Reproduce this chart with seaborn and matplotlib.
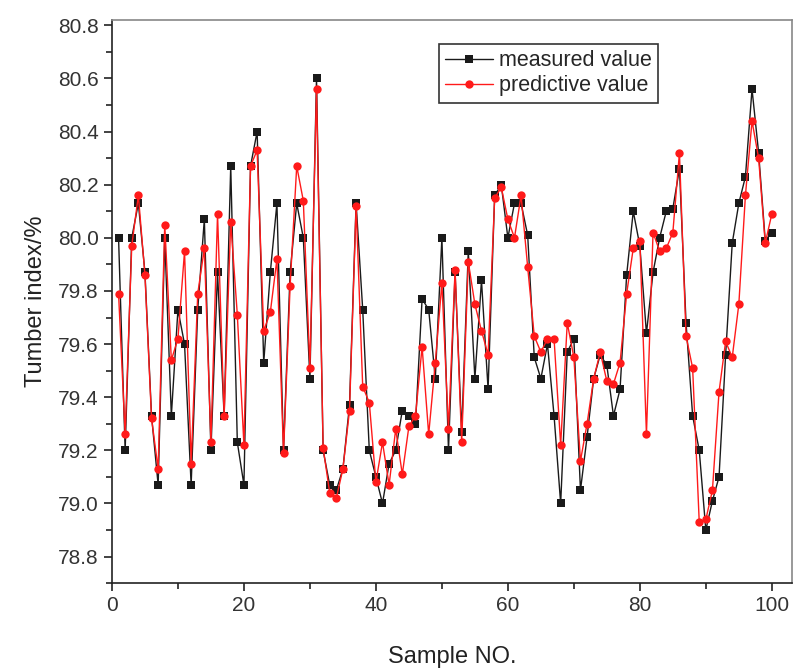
import numpy as np
import pandas as pd
import matplotlib
matplotlib.use("Agg")
import matplotlib.pyplot as plt
from matplotlib.ticker import MultipleLocator
import seaborn as sns

sample_no = list(range(1, 101))
measured = [80.00, 79.20, 80.00, 80.13, 79.87, 79.33, 79.07, 80.00, 79.33, 79.73,
            79.60, 79.07, 79.73, 80.07, 79.20, 79.87, 79.33, 80.27, 79.23, 79.07,
            80.27, 80.40, 79.53, 79.87, 80.13, 79.20, 79.87, 80.13, 80.00, 79.47,
            80.60, 79.20, 79.07, 79.05, 79.13, 79.37, 80.13, 79.73, 79.20, 79.10,
            79.00, 79.15, 79.20, 79.35, 79.33, 79.30, 79.77, 79.73, 79.47, 80.00,
            79.20, 79.87, 79.27, 79.95, 79.47, 79.84, 79.43, 80.16, 80.20, 80.00,
            80.13, 80.13, 80.01, 79.55, 79.47, 79.60, 79.33, 79.00, 79.57, 79.62,
            79.05, 79.25, 79.47, 79.56, 79.52, 79.33, 79.43, 79.86, 80.10, 79.97,
            79.64, 79.87, 80.00, 80.10, 80.11, 80.26, 79.68, 79.33, 79.20, 78.90,
            79.01, 79.10, 79.56, 79.98, 80.13, 80.23, 80.56, 80.32, 79.99, 80.02]
predictive = [79.79, 79.26, 79.97, 80.16, 79.86, 79.32, 79.13, 80.05, 79.54, 79.62,
              79.95, 79.15, 79.79, 79.96, 79.23, 80.09, 79.33, 80.06, 79.71, 79.22,
              80.27, 80.33, 79.65, 79.72, 79.92, 79.19, 79.82, 80.27, 80.14, 79.51,
              80.56, 79.21, 79.04, 79.02, 79.13, 79.35, 80.12, 79.44, 79.38, 79.08,
              79.23, 79.07, 79.28, 79.11, 79.29, 79.33, 79.59, 79.26, 79.53, 79.83,
              79.28, 79.88, 79.23, 79.91, 79.75, 79.65, 79.56, 80.15, 80.19, 80.07,
              80.00, 80.16, 79.89, 79.63, 79.57, 79.62, 79.62, 79.22, 79.68, 79.55,
              79.16, 79.30, 79.47, 79.57, 79.46, 79.45, 79.53, 79.79, 79.96, 79.99,
              79.26, 80.02, 79.95, 79.96, 80.02, 80.32, 79.63, 79.51, 78.93, 78.94,
              79.05, 79.42, 79.61, 79.55, 79.75, 80.16, 80.44, 80.30, 79.98, 80.09]
series_names = ["measured value", "predictive value"]

sns.set_theme(style="ticks")
plt.rcParams['font.family'] = ['Liberation Sans', 'DejaVu Sans']

fig = plt.figure(figsize=(7.94, 6.68), dpi=100)
ax = fig.add_axes([0.141, 0.127, 0.856, 0.843])

sns.lineplot(x=sample_no, y=measured, ax=ax, color="#1a1a1a", marker="s",
             markersize=5.5, markeredgewidth=0, linewidth=1.0, label=series_names[0])
sns.lineplot(x=sample_no, y=predictive, ax=ax, color="#ff1a1a", marker="o",
             markersize=6, markeredgewidth=0, linewidth=1.0, label=series_names[1])

ax.set_xlim(0, 103)
ax.set_ylim(78.7, 80.82)
ax.xaxis.set_major_locator(MultipleLocator(20))
ax.xaxis.set_minor_locator(MultipleLocator(10))
ax.yaxis.set_major_locator(MultipleLocator(0.2))
ax.yaxis.set_minor_locator(MultipleLocator(0.1))
ax.set_yticks(np.arange(78.8, 80.81, 0.2))
ax.set_yticklabels([f"{v:.1f}" for v in np.arange(78.8, 80.81, 0.2)])

ax.tick_params(axis='both', which='major', direction='out', length=6, width=1.2,
               labelsize=15, colors='#222222', labelcolor='#333333')
ax.tick_params(axis='both', which='minor', direction='out', length=4, width=1.2,
               colors='#222222')
for s in ax.spines.values():
    s.set_linewidth(1.2)
    s.set_color('#222222')
ax.spines['top'].set_color('#888888')
ax.spines['right'].set_color('#888888')

ax.set_xlabel("Sample NO.", fontsize=17, color='#222222', labelpad=22)
ax.set_ylabel("Tumber index/%", fontsize=17, color='#222222', labelpad=8)

leg = ax.legend(loc='upper left', bbox_to_anchor=(0.481, 0.958), fontsize=15.5,
                frameon=True, fancybox=False, edgecolor='#333333',
                handlelength=2.2, borderpad=0.3, labelspacing=0.2,
                handletextpad=0.3, borderaxespad=0)
leg.get_frame().set_linewidth(1.2)
leg.get_frame().set_alpha(1)

fig.savefig("out.png", dpi=100)
